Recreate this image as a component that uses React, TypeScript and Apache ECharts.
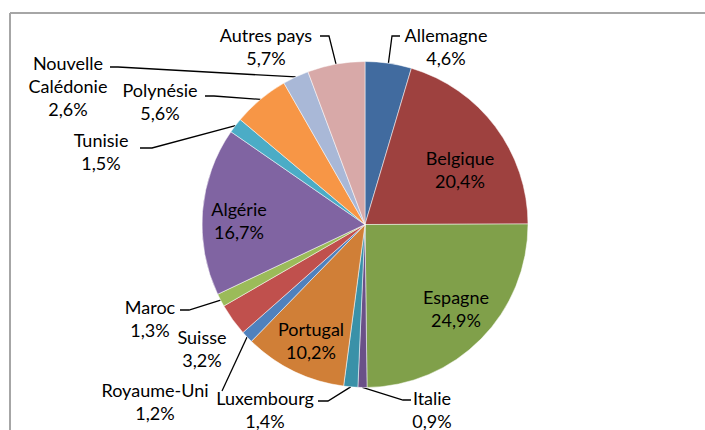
import React, { useEffect, useRef } from "react";
import * as echarts from "echarts";

// ---- data ----
const countries = [
  "Allemagne",
  "Belgique",
  "Espagne",
  "Italie",
  "Luxembourg",
  "Portugal",
  "Royaume-Uni",
  "Suisse",
  "Maroc",
  "Algérie",
  "Tunisie",
  "Polynésie",
  "Nouvelle Calédonie",
  "Autres pays",
];
const shares = [4.6, 20.4, 24.9, 0.9, 1.4, 10.2, 1.2, 3.2, 1.3, 16.7, 1.5, 5.6, 2.6, 5.7];
const sliceColors = [
  "#416B9F",
  "#9E413F",
  "#80A04A",
  "#6A5188",
  "#3A91A8",
  "#D07F37",
  "#4F81BD",
  "#C0504D",
  "#9BBB59",
  "#8064A2",
  "#4BACC6",
  "#F79646",
  "#A9B8D7",
  "#D8A9A8",
];

// ---- label placement (layout only) ----
type LabelPlace = { x: number; y: number; line?: number[][] };
const labelPlaces: Record<string, LabelPlace> = {
  Allemagne: { x: 446, y: 46, line: [[392, 36], [400, 36]] },
  Belgique: { x: 460, y: 169 },
  Espagne: { x: 456, y: 308 },
  Italie: { x: 432, y: 409, line: [[403, 400], [411, 400]] },
  Luxembourg: { x: 265, y: 409, line: [[328, 401], [318, 401]] },
  Portugal: { x: 311, y: 340 },
  "Royaume-Uni": { x: 155, y: 401, line: [[222, 391]] },
  Suisse: { x: 202, y: 348 },
  Maroc: { x: 150, y: 318, line: [[189, 310], [180, 310]] },
  Algérie: { x: 239, y: 220 },
  Tunisie: { x: 101, y: 151, line: [[152, 148], [140, 148]] },
  Polynésie: { x: 160, y: 101, line: [[214, 96], [205, 96]] },
  "Nouvelle Calédonie": { x: 68, y: 86, line: [[118, 67], [110, 67]] },
  "Autres pays": { x: 266, y: 46, line: [[329, 36], [320, 36]] },
};

const fmt = (v: number) => v.toFixed(1).replace(".", ",") + "%";

export default function App() {
  const ref = useRef<HTMLDivElement>(null);
  useEffect(() => {
    if (!ref.current) return;
    const chart = echarts.init(ref.current, undefined, { renderer: "svg" });
    const data = countries.map((name, i) => ({
      name,
      value: shares[i],
      itemStyle: { color: sliceColors[i] },
      labelLine: { show: !!labelPlaces[name].line },
    }));
    chart.setOption({
      animation: false,
      backgroundColor: "#ffffff",
      graphic: [
        {
          type: "line",
          shape: { x1: 10, y1: 13, x2: 705, y2: 13 },
          style: { stroke: "#A6A6A6", lineWidth: 2 },
        },
        {
          type: "line",
          shape: { x1: 10, y1: 13, x2: 10, y2: 430 },
          style: { stroke: "#A6A6A6", lineWidth: 2 },
        },
      ],
      series: [
        {
          type: "pie",
          center: [365, 224.5],
          radius: 163,
          startAngle: 90,
          clockwise: true,
          avoidLabelOverlap: false,
          minShowLabelAngle: 0,
          data,
          itemStyle: { borderColor: "#ffffff", borderWidth: 0.5 },
          label: {
            show: true,
            position: "outside",
            color: "#000",
            fontFamily: "Lato",
            fontSize: 18,
            lineHeight: 23,
            align: "center",
            formatter: (p: any) =>
              p.name.replace("Nouvelle ", "Nouvelle\n") + "\n" + fmt(p.value),
          },
          labelLine: {
            show: true,
            length: 10,
            length2: 10,
            smooth: false,
            lineStyle: { color: "#000", width: 1.3 },
          },
          labelLayout: (params: any) => {
            const name = countries[params.dataIndex];
            const place = labelPlaces[name];
            const out: any = {
              x: place.x,
              y: place.y,
              align: "center",
              verticalAlign: "middle",
            };
            if (place.line && params.labelLinePoints) {
              const start = params.labelLinePoints[0];
              out.labelLinePoints = [[start[0], start[1]], ...place.line];
            }
            return out;
          },
        },
      ],
    });
    return () => chart.dispose();
  }, []);
  return (
    <div
      ref={ref}
      style={{ position: "fixed", left: 0, top: 0, width: 705, height: 430 }}
    />
  );
}
